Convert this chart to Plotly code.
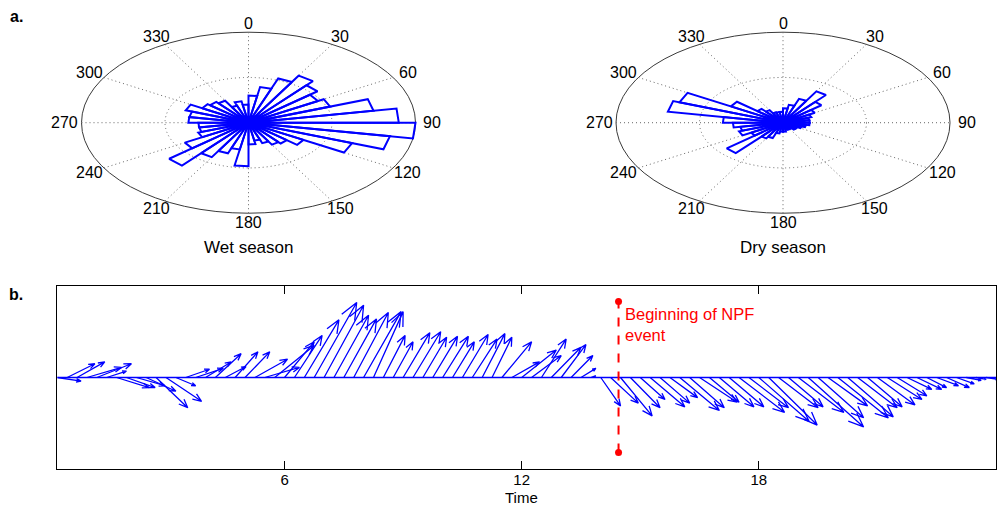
import numpy as np
import plotly.graph_objects as go

# ---------------- data ----------------
# Rose histograms: 36 bins of 10 deg (compass, clockwise from north), bin k = [10k, 10k+10)
rose_bin_width_deg = 10
ring_max = 50  # value of outer ring
wet_counts = [15, 20, 26, 30, 27, 24, 26, 38, 45, 50, 43, 33, 19, 15, 14, 12, 10, 12,
              24, 15, 18, 22, 31, 22, 16, 15, 15, 18, 18, 20, 16, 15, 14, 10, 12, 10]
dry_counts = [8, 10, 14, 20, 15, 11, 9, 8, 8, 8, 7, 6, 5, 5, 4, 4, 4, 5,
              5, 6, 9, 10, 22, 11, 14, 13, 15, 18, 35, 33, 18, 10, 8, 6, 6, 6]
angle_labels = [0, 30, 60, 90, 120, 150, 180, 210, 240, 270, 300, 330]

# Feather plot: wind components every 15 min (u east, v north)
sample_step_h = 0.25
u_wind = [2.4, 2.8, 2.8, 3.5, 3.5, 2.0, 3.3, 2.9, 2.9, 3.0, 3.2, 3.6, 2.0, 2.4, 2.8, 2.6,
          2.6, 2.1, 2.3, 2.5, 3.3, 3.5, 4.0, 3.0, 2.8, 3.5, 4.3, 4.0, 3.5, 3.3, 3.5, 3.8,
          3.0, 2.2, 2.0, 2.7, 2.8, 2.4, 2.5, 2.6, 2.2, 2.6, 2.5, 2.3, 2.0, 3.0, 2.8, 3.5,
          3.0, 2.5, 3.0, 2.5, 2.2, 1.5, 0.5, 2.0, 2.8, 3.2, 3.0, 2.5, 3.5, 3.0, 2.8, 4.0,
          3.5, 3.8, 3.0, 3.5, 3.5, 4.6, 4.0, 5.1, 4.9, 4.0, 3.5, 4.6, 5.6, 4.6, 4.0, 5.1,
          4.6, 4.0, 3.5, 3.8, 3.5, 3.0, 2.5, 2.5, 2.0, 2.2, 2.3, 1.8, 1.5, 1.0, 1.2, 1.0]
v_wind = [-0.4, 1.5, 1.7, 1.1, 1.5, 0.7, -1.1, -1.1, -0.9, -1.5, -3.3, -2.6, -0.9, 0.9, 1.0, 1.7,
          2.6, 1.2, 2.8, 2.8, 2.0, 1.1, 3.5, 3.9, 4.6, 6.3, 8.2, 7.9, 6.8, 6.4, 7.1, 7.2,
          7.2, 4.6, 3.9, 4.9, 5.0, 4.4, 4.5, 4.5, 3.9, 4.7, 4.2, 4.8, 4.4, 3.9, 1.7, 3.0,
          2.4, 4.2, 3.3, 3.6, 2.4, 1.0, 0.2, -3.1, -2.8, -4.2, -3.3, -2.4, -3.2, -2.8, -2.2, -3.6,
          -3.3, -2.7, -2.7, -3.2, -3.2, -3.8, -3.3, -4.8, -5.2, -3.3, -3.2, -3.8, -5.4, -4.4, -3.1, -4.4,
          -4.3, -3.3, -3.2, -3.0, -2.4, -2.0, -1.3, -1.3, -1.1, -0.9, -1.1, -0.7, -0.3, -0.2, -0.2, 0.0]
time_h = [sample_step_h * (k + 1) for k in range(len(u_wind))]
time_ticks = [6, 12, 18, 24]
npf_start_h = 14.45
npf_extent = [-8.2, 8.3]

FONT = "Arial, Liberation Sans, sans-serif"
FS = 16
FS_AX = 15
BLUE = "#0000FF"
GRID = dict(color="#666666", width=1, dash="1px,3px")

fig = go.Figure()

# ---------------- rose plots ----------------
def rose_xy(counts):
    xs, ys = [], []
    for k, c in enumerate(counts):
        r = c / ring_max
        a1 = np.deg2rad(k * rose_bin_width_deg)
        a2 = np.deg2rad((k + 1) * rose_bin_width_deg)
        xs += [0, r * np.sin(a1), r * np.sin(a2), 0, None]
        ys += [0, r * np.cos(a1), r * np.cos(a2), 0, None]
    return xs, ys

W, H = 1001, 507
shapes = []
annotations = []
for counts, xa, ya, title, cx in [(wet_counts, "x", "y", "Wet season", 248.5),
                                  (dry_counts, "x2", "y2", "Dry season", 783)]:
    shapes.append(dict(type="circle", xref=xa, yref=ya, x0=-1, x1=1, y0=-1, y1=1,
                       line=dict(color="#3a3a3a", width=1), layer="below"))
    shapes.append(dict(type="circle", xref=xa, yref=ya, x0=-0.5, x1=0.5, y0=-0.5, y1=0.5,
                       line=GRID, layer="below"))
    for a in angle_labels[:6]:
        ar = np.deg2rad(a)
        shapes.append(dict(type="line", xref=xa, yref=ya,
                           x0=-np.sin(ar), y0=-np.cos(ar), x1=np.sin(ar), y1=np.cos(ar),
                           line=GRID, layer="below"))
    for a in angle_labels:
        ar = np.deg2rad(a)
        annotations.append(dict(x=1.1 * np.sin(ar), y=1.1 * np.cos(ar), xref=xa, yref=ya,
                                xanchor="center", yanchor="middle",
                                text=str(a), showarrow=False,
                                font=dict(size=FS, color="black", family=FONT)))
    annotations.append(dict(x=cx / W, y=1 - 247 / H, xref="paper", yref="paper",
                            xanchor="center", yanchor="middle", text=title, showarrow=False,
                            font=dict(size=17, color="black", family=FONT)))
    xs, ys = rose_xy(counts)
    fig.add_trace(go.Scatter(x=xs, y=ys, mode="lines", xaxis=xa, yaxis=ya,
                             line=dict(color=BLUE, width=2), hoverinfo="skip",
                             showlegend=False))

# ---------------- feather plot ----------------
fx, fy = [], []
for t, u, v in zip(time_h, u_wind, v_wind):
    z = complex(u, v)
    for p in [0, 1, 0.8 + 0.08j, 1, 0.8 - 0.08j]:
        w = z * p
        fx.append(t + w.real * sample_step_h)
        fy.append(w.imag)
    fx.append(None)
    fy.append(None)
fig.add_trace(go.Scatter(x=fx, y=fy, mode="lines", xaxis="x3", yaxis="y3",
                         line=dict(color=BLUE, width=1.3), hoverinfo="skip", showlegend=False))
fig.add_trace(go.Scatter(x=[time_h[0], time_h[-1]], y=[0, 0], mode="lines", xaxis="x3",
                         yaxis="y3", line=dict(color=BLUE, width=1.3), showlegend=False))
fig.add_trace(go.Scatter(x=[npf_start_h, npf_start_h], y=npf_extent, mode="lines+markers",
                         xaxis="x3", yaxis="y3",
                         line=dict(color="#FF0000", width=2, dash="dash"),
                         marker=dict(color="#FF0000", size=7), showlegend=False))

annotations += [
    dict(x=npf_start_h + 0.12, y=8.1, xref="x3", yref="y3", xanchor="left", yanchor="top",
         text="Beginning of NPF<br>event", align="left", showarrow=False,
         font=dict(size=16.5, color="#FF0000", family=FONT)),
    dict(x=521 / W, y=1 - 497.5 / H, xref="paper", yref="paper", xanchor="center",
         yanchor="middle", text="Time", showarrow=False,
         font=dict(size=FS_AX, color="black", family=FONT)),
    dict(x=16 / W, y=1 - 16 / H, xref="paper", yref="paper", xanchor="center",
         yanchor="middle", text="<b>a.</b>", showarrow=False,
         font=dict(size=FS, color="black", family=FONT)),
    dict(x=16 / W, y=1 - 294 / H, xref="paper", yref="paper", xanchor="center",
         yanchor="middle", text="<b>b.</b>", showarrow=False,
         font=dict(size=FS, color="black", family=FONT)),
]

hidden = dict(visible=False, range=[-1.25, 1.25], fixedrange=True)
fig.update_layout(
    width=W, height=H, margin=dict(l=0, r=0, t=0, b=0),
    paper_bgcolor="white", plot_bgcolor="rgba(0,0,0,0)",
    font=dict(family=FONT, size=FS, color="black"),
    xaxis=dict(hidden, anchor="y",
               domain=[(248.5 - 1.25 * 167) / W, (248.5 + 1.25 * 167) / W]),
    yaxis=dict(hidden, anchor="x",
               domain=[1 - (122.7 + 1.25 * 90.5) / H, 1 - (122.7 - 1.25 * 90.5) / H]),
    xaxis2=dict(hidden, anchor="y2",
                domain=[(783 - 1.25 * 167) / W, (783 + 1.25 * 167) / W]),
    yaxis2=dict(hidden, anchor="x2",
                domain=[1 - (122.7 + 1.25 * 90.5) / H, 1 - (122.7 - 1.25 * 90.5) / H]),
    xaxis3=dict(anchor="y3", domain=[57.3 / W, 996 / W], range=[time_h[0], time_h[-1]],
                tickvals=time_ticks, ticktext=[str(t) for t in time_ticks],
                ticks="inside", ticklen=8, tickcolor="black", mirror="ticks",
                ticklabelstandoff=-3,
                showline=True, linecolor="black", linewidth=1, showgrid=False,
                zeroline=False, tickfont=dict(size=FS_AX, family=FONT, color="black")),
    yaxis3=dict(anchor="x3", domain=[1 - 469 / H, 1 - 286 / H], range=[-10, 10],
                showticklabels=False, ticks="", showline=True, mirror=True,
                linecolor="black", linewidth=1, showgrid=False, zeroline=False),
    shapes=shapes, annotations=annotations,
)
fig.write_html("out.html", config={"displayModeBar": False},
               post_script="document.body.style.margin='0';")
